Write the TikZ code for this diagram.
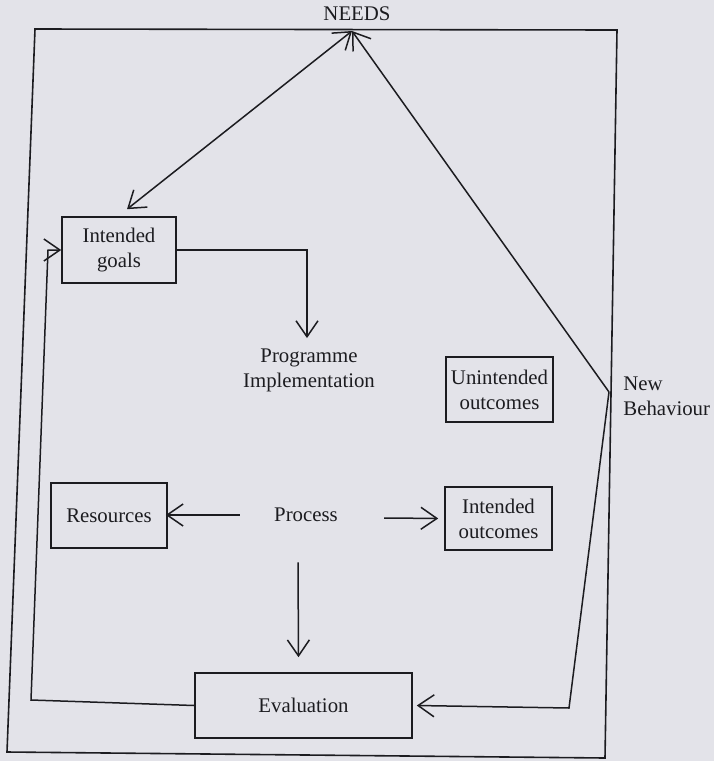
\documentclass[tikz,border=0pt]{standalone}
\usepackage{fontspec}
\setmainfont{Liberation Serif}
\usepackage{tikz}
\usetikzlibrary{arrows.meta}
\definecolor{paper}{RGB}{227,227,233}
\definecolor{ink}{RGB}{28,28,32}
\tikzset{
  box/.style={draw=ink, line width=0.8pt, text=ink, align=center, inner sep=2pt},
  lbl/.style={text=ink, align=center, inner sep=1pt},
  link/.style={draw=ink, line width=0.75pt, -{Straight Barb[length=8pt,width=11pt]}},
}

\begin{document}
\begin{tikzpicture}[x=0.5pt, y=-0.5pt, font=\fontsize{10.4}{12.5}\selectfont]
    \fill[paper] (0,0) rectangle (714,761);
    \draw[ink, line width=0.8pt] (35,29) -- (617,30) -- (605,758) -- (7,752) -- cycle;
    \node[lbl] (needs) at (357,14) {NEEDS};
    \coordinate (needsin) at (352,31);
    \node[box, minimum width=57pt, minimum height=33pt] (goals) at (119,250) {Intended\\goals};
    \node[lbl] (prog) at (309,370) {Programme\\Implementation};
    \node[box, minimum width=53.5pt, minimum height=32.5pt] (unint) at (499.5,389.5) {Unintended\\outcomes};
    \node[lbl, anchor=west, align=left] (newb) at (621,396) {New\\Behaviour};
    \coordinate (nb) at (609,392);
    \coordinate (nbbot) at (569,708);
    \node[box, minimum width=58pt, minimum height=32.5pt] (res) at (109,515.5) {Resources};
    \node[lbl] (process) at (306,515) {Process};
    \node[box, minimum width=53.5pt, minimum height=31.5pt] (intout) at (498.5,518.5) {Intended\\outcomes};
    \node[box, minimum width=108.5pt, minimum height=32.5pt] (eval) at (303.5,705.5) {Evaluation};
    \coordinate (lbot) at (31,700);
    \coordinate (ltop) at (48,250);
    \draw[link, {Straight Barb[length=8pt,width=11pt]}-{Straight Barb[length=8pt,width=11pt]}] (needsin) -- ([xshift=4pt,yshift=3.5pt]goals.north);
    \draw[link] (nb) -- (needsin);
    \draw[link] (nb) -- (nbbot) -- ([xshift=2pt]eval.east);
    \draw[link] (goals.east) -| ([xshift=-1pt,yshift=4pt]prog.north);
    \draw[link, shorten >=-1pt] ([xshift=-16pt]process.west) -- (res.east |- process.west);
    \draw[link, shorten >=3pt] ([xshift=22pt,yshift=-1.5pt]process.east) -- (intout.west |- intout.center);
    \draw[link] ([xshift=-4pt,yshift=-19pt]process.south) -- ([xshift=-2.5pt,yshift=7.5pt]eval.north);
    \draw[link] (eval.west) -- (lbot) -- (ltop) -- (goals.west);
\end{tikzpicture}
\end{document}
